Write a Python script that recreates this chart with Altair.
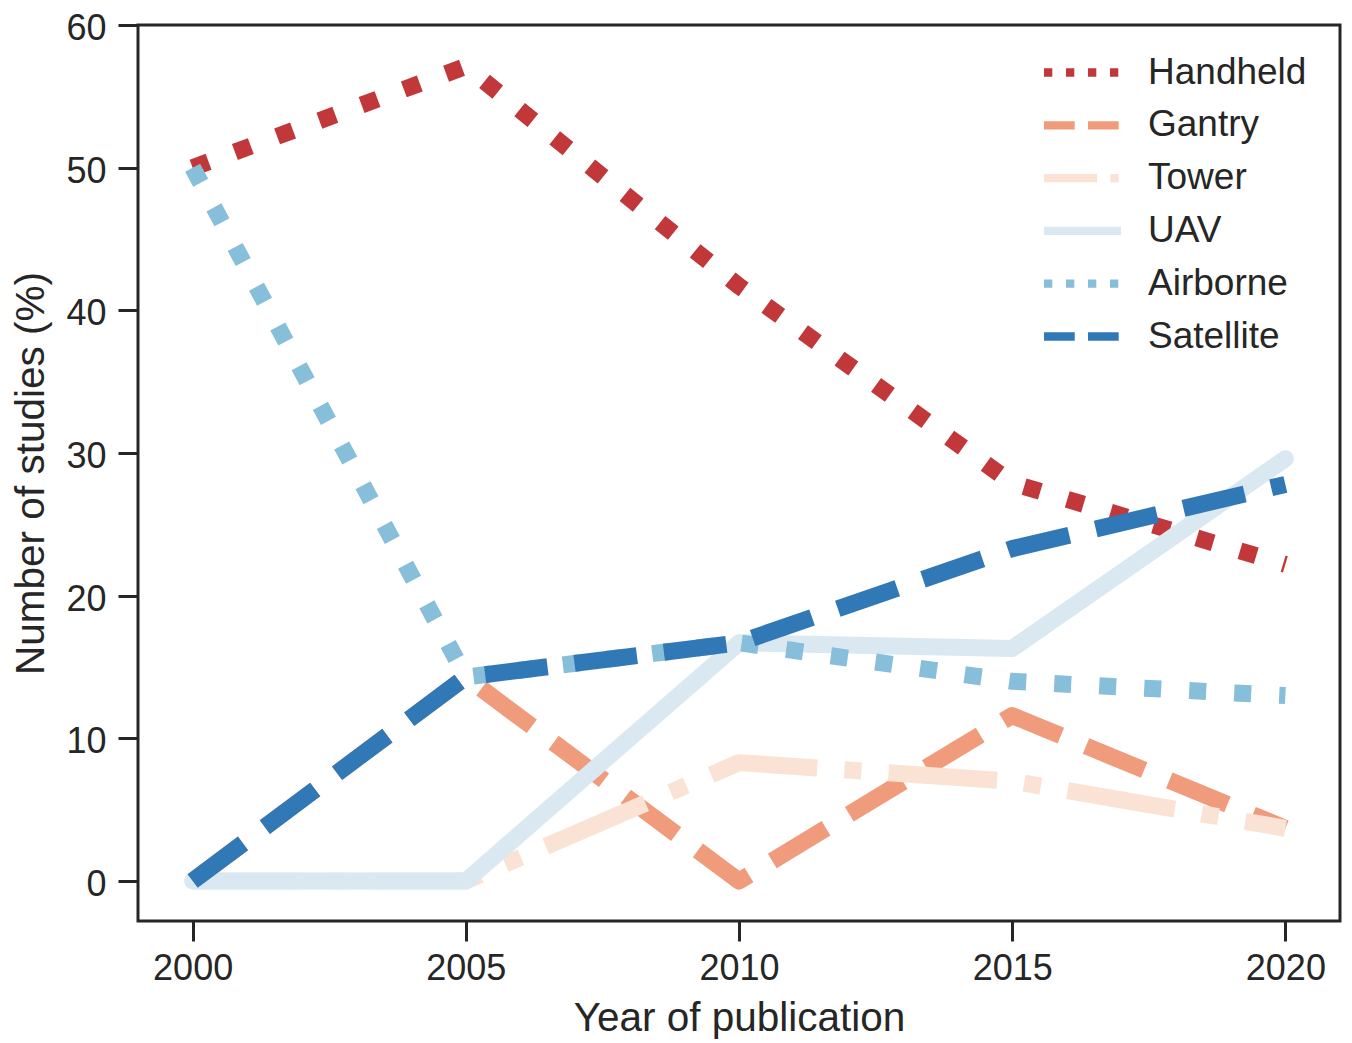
import altair as alt
import pandas as pd

years = [2000, 2005, 2010, 2015, 2020]
handheld = [50.0, 57.1, 41.7, 27.9, 22.2]
gantry = [0.0, 14.3, 0.0, 11.6, 3.7]
tower = [0.0, 0.0, 8.3, 7.0, 3.7]
uav = [0.0, 0.0, 16.7, 16.3, 29.6]
airborne = [50.0, 14.3, 16.7, 14.0, 13.0]
satellite = [0.0, 14.3, 16.7, 23.3, 27.8]

platforms = ["Handheld", "Gantry", "Tower", "UAV", "Airborne", "Satellite"]
series = [handheld, gantry, tower, uav, airborne, satellite]
colors = ["#c1373a", "#f09b7b", "#fae2d5", "#dae8f1", "#87beda", "#3079b6"]

x_ticks = [2000, 2005, 2010, 2015, 2020]
y_ticks = [0, 10, 20, 30, 40, 50, 60]

LW = 17
LLW = 8.3
styles = ["dot", "dash", "dashdot", "solid", "dot", "dash"]
def pattern(style, lw):
    if style == "dot":
        return [1 * lw, 1.65 * lw]
    if style == "dash":
        return [3.7 * lw, 1.6 * lw]
    if style == "dashdot":
        return [6.4 * lw, 1.6 * lw, 1 * lw, 1.6 * lw]
    return [1, 0]

rows = []
for name, vals in zip(platforms, series):
    for yr, v in zip(years, vals):
        rows.append({"platform": name, "year": yr, "value": v})
df = pd.DataFrame(rows)

FONT = "Liberation Sans"
TXT = "#262626"

x_enc = alt.X("year:Q", scale=alt.Scale(domain=[1999, 2021], nice=False, zero=False),
              axis=alt.Axis(values=x_ticks, format="d", title="Year of publication",
                            labelPadding=10, titlePadding=12, labelFlush=False))
y_enc = alt.Y("value:Q", scale=alt.Scale(domain=[-2.8, 60], nice=False, zero=False),
              axis=alt.Axis(values=y_ticks, title="Number of studies (%)",
                            labelPadding=12, labelOffset=3.5, titlePadding=13,
                            labelFlush=False))

layers = []
for name, col, st in zip(platforms, colors, styles):
    mk = dict(color=col, strokeWidth=LW, strokeJoin="round",
              strokeCap="round" if st == "solid" else "butt")
    if st != "solid":
        mk["strokeDash"] = pattern(st, LW)
    layers.append(
        alt.Chart(df).transform_filter(alt.datum.platform == name)
        .mark_line(**mk).encode(x=x_enc, y=y_enc)
    )

leg = alt.Legend(title=None, orient="none", legendX=921, legendY=24,
                 symbolType="M-2,0H2", symbolSize=1482, symbolStrokeWidth=LLW,
                 labelFont=FONT, labelFontSize=37, labelColor=TXT,
                 labelOffset=42, rowPadding=10.8, padding=0)

legend_layer = (
    alt.Chart(df).transform_filter("false")
    .mark_line(strokeWidth=LLW)
    .encode(
        x=x_enc, y=y_enc,
        color=alt.Color("platform:N", scale=alt.Scale(domain=platforms, range=colors), legend=leg),
        strokeDash=alt.StrokeDash("platform:N",
                                  scale=alt.Scale(domain=platforms,
                                                  range=[pattern(s, LLW) for s in styles]),
                                  legend=leg),
    )
)

chart = (
    alt.layer(*layers, legend_layer)
    .properties(width=1202, height=896,
                autosize=alt.AutoSizeParams(type="none"),
                padding={"left": 130, "top": 17, "right": 2, "bottom": 121})
    .configure_view(stroke=TXT, strokeWidth=3)
    .configure_axis(labelFont=FONT, labelFontSize=36, labelColor=TXT,
                    titleFont=FONT, titleFontSize=40.5, titleColor=TXT,
                    titleFontWeight="normal", tickSize=20, tickWidth=3,
                    tickColor=TXT, domain=False, grid=False)
)

chart.save("out.html", embed_options={"renderer": "svg", "actions": False})
